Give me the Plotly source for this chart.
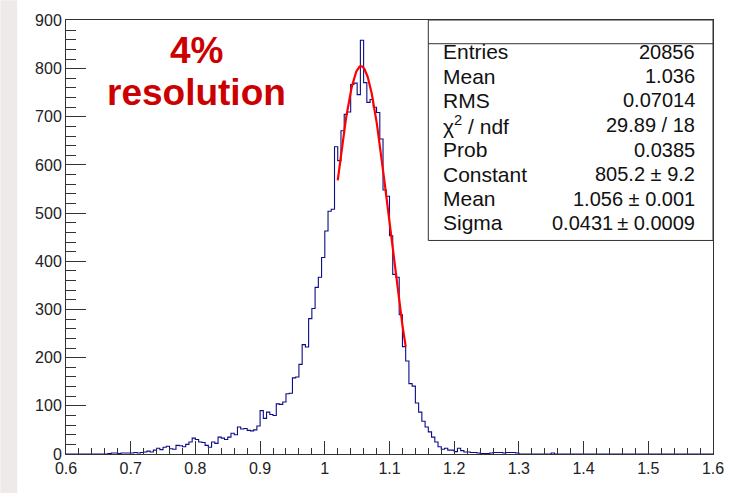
import numpy as np
import plotly.graph_objects as go

# ---------------- data ----------------
x_min, x_max, n_bins = 0.6, 1.6, 200
counts = (
    [0] * 13 +                                                   # 0.600-0.660
    [1, 2, 2, 1, 2, 2, 2] +                                      # 0.665-0.695
    [2, 3, 2, 3, 4, 6, 4, 8, 12, 9] +                            # 0.700-0.745
    [14, 16, 11, 10, 18, 17, 15, 20, 25, 33] +                   # 0.750-0.795
    [30, 25, 24, 18, 14, 25, 22, 35, 33, 30] +                   # 0.800-0.845
    [35, 43, 40, 56, 52, 53, 49, 48, 50, 58] +                   # 0.850-0.895
    [90, 74, 87, 82, 80, 104, 103, 108, 125, 126] +              # 0.900-0.945
    [158, 160, 186, 227, 222, 281, 302, 346, 367, 408] +         # 0.950-0.995
    [463, 504, 508, 638, 609, 671, 705, 710, 767, 770] +         # 1.000-1.045
    [746, 859, 771, 730, 736, 720, 709, 654, 548, 535] +         # 1.050-1.095
    [453, 373, 367, 289, 223, 193, 146, 141, 106, 87] +          # 1.100-1.145
    [68, 56, 46, 35, 25, 15, 10, 12, 8, 8] +                     # 1.150-1.195
    [5, 12, 7, 4, 4, 3, 3, 2, 1, 1] +                            # 1.200-1.245
    [1, 2, 3, 3, 3, 2, 3, 3, 3, 2] +                             # 1.250-1.295
    [0] * 10 +                                                   # 1.300-1.345
    [2] + [0] * 49                                               # 1.350-1.595
)

# Gaussian fit parameters (from the stats box)
fit_const, fit_mean, fit_sigma = 805.2, 1.056, 0.0431
fit_lo, fit_hi = 1.02, 1.125

stat_labels = ["Entries", "Mean", "RMS", "\u03c7<sup>2</sup> / ndf", "Prob",
               "Constant", "Mean", "Sigma"]
stat_values = ["20856", "1.036", "0.07014", "29.89 / 18", "0.0385",
               "805.2 \u00b1 9.2", "1.056 \u00b1 0.001", "0.0431\u2009\u00b1 0.0009"]

# ---------------- figure ----------------
edges = np.linspace(x_min, x_max, n_bins + 1)
hist_y = list(counts) + [counts[-1]]

fx = np.linspace(fit_lo, fit_hi, 120)
fy = fit_const * np.exp(-0.5 * ((fx - fit_mean) / fit_sigma) ** 2)

W, H = 736, 493
L, R, T, B = 66, 20, 15, 39
pw, ph = W - L - R, H - T - B


def px(x):
    return (x - L) / pw


def py(y):
    return (H - B - y) / ph


fig = go.Figure()
fig.add_trace(go.Scatter(x=edges, y=hist_y, mode="lines", line_shape="hv",
                         line=dict(color="#0c0c88", width=1.1),
                         hoverinfo="skip", showlegend=False))
fig.add_trace(go.Scatter(x=fx, y=fy, mode="lines",
                         line=dict(color="#ff0000", width=2.2),
                         hoverinfo="skip", showlegend=False))

font_main = "Liberation Sans, Arial, Helvetica, sans-serif"

shapes = [
    # grey strip at the left of the canvas
    dict(type="rect", xref="paper", yref="paper", x0=px(0), x1=px(17),
         y0=py(H + 5), y1=py(-5), fillcolor="#eeeaea", line_width=0, layer="below"),
    # stats box
    dict(type="rect", xref="paper", yref="paper", x0=px(430), x1=px(716),
         y0=py(238), y1=py(15), fillcolor="white",
         line=dict(color="#333333", width=1)),
    dict(type="line", xref="paper", yref="paper", x0=px(430), x1=px(716),
         y0=py(39), y1=py(39), line=dict(color="#333333", width=1)),
]

annotations = []
row_y = [47, 72, 96, 121, 146, 171, 196, 220]
for lab, val, yy in zip(stat_labels, stat_values, row_y):
    annotations.append(dict(x=px(443), y=py(yy), xref="paper", yref="paper",
                            text=lab, showarrow=False, xanchor="left",
                            yanchor="middle",
                            font=dict(family=font_main, size=21, color="#111")))
    annotations.append(dict(x=px(700), y=py(yy), xref="paper", yref="paper",
                            text=val, showarrow=False, xanchor="right",
                            yanchor="middle",
                            font=dict(family=font_main, size=20, color="#111")))

annotations.append(dict(x=px(197), y=py(46), xref="paper", yref="paper",
                        text="<b>4%</b>", showarrow=False, xanchor="center",
                        yanchor="middle",
                        font=dict(family=font_main, size=37, color="#cc0000")))
annotations.append(dict(x=px(197), y=py(88), xref="paper", yref="paper",
                        text="<b>resolution</b>", showarrow=False, xanchor="center",
                        yanchor="middle",
                        font=dict(family=font_main, size=37, color="#cc0000")))

fig.update_layout(
    width=W, height=H,
    margin=dict(l=L, r=R, t=T, b=B, pad=0),
    paper_bgcolor="white", plot_bgcolor="white",
    shapes=shapes, annotations=annotations,
    font=dict(family=font_main, size=16, color="#222"),
    xaxis=dict(range=[x_min, x_max], dtick=0.1, tick0=0.6, tickformat="",
               showgrid=False, zeroline=False, showline=True, mirror=True,
               linecolor="#333", linewidth=1,
               ticks="inside", ticklen=13, tickcolor="#333", tickwidth=1,
               minor=dict(dtick=0.02, ticks="inside", ticklen=6.5,
                          tickcolor="#333", showgrid=False),
               tickfont=dict(size=16, color="#222"), fixedrange=True),
    yaxis=dict(range=[0, 901], dtick=100, tick0=0,
               showgrid=False, zeroline=False, showline=True, mirror=True,
               linecolor="#333", linewidth=1,
               ticks="inside", ticklen=20, tickcolor="#333", tickwidth=1,
               minor=dict(dtick=20, ticks="inside", ticklen=10,
                          tickcolor="#333", showgrid=False),
               tickfont=dict(size=16, color="#222"), fixedrange=True),
)

fig.write_html("out.html")
